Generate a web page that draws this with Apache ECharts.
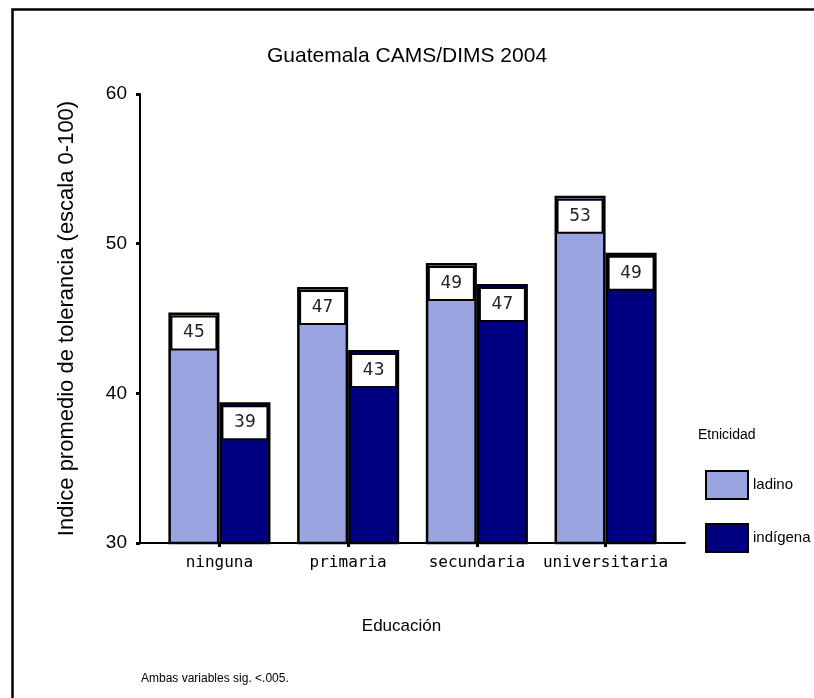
<!DOCTYPE html>
<html>
<head>
<meta charset="utf-8">
<script src="https://cdn.jsdelivr.net/npm/echarts@6/dist/echarts.min.js"></script>
<style>
html,body{margin:0;padding:0;background:#fff;}
#chart{width:814px;height:698px;}
</style>
</head>
<body>
<div id="chart"></div>
<script>
// ---- data ----
var categories = ['ninguna', 'primaria', 'secundaria', 'universitaria'];
var seriesNames = ['ladino', 'indígena'];
var ladino = [45.4, 47.1, 48.7, 53.2];
var indigena = [39.4, 42.9, 47.3, 49.4];
var yTicks = [30, 40, 50, 60];

var chart = echarts.init(document.getElementById('chart'), null, {renderer: 'canvas'});

function toPoints(arr) {
  return arr.map(function (v, i) { return [i + 1, v]; });
}
var catPos = categories.map(function (c, i) { return i + 1; });

var labelStyle = {
  show: true,
  position: 'insideTop',
  distance: 5,
  formatter: function (p) { return Math.round(p.value[1]); },
  backgroundColor: '#fff',
  borderColor: '#000',
  borderWidth: 2,
  width: 43,
  align: 'center',
  lineHeight: 19,
  padding: [6, 0, 6, 0],
  fontFamily: 'DejaVu Sans',
  fontSize: 17,
  color: '#222'
};

var option = {
  animation: false,
  backgroundColor: '#fff',
  title: [
    {
      text: 'Guatemala CAMS/DIMS 2004',
      left: 'center',
      top: 41,
      textStyle: {fontFamily: 'Liberation Sans', fontSize: 21, fontWeight: 'normal', color: '#000'}
    },
    {
      text: 'Etnicidad',
      left: 693,
      top: 423,
      textStyle: {fontFamily: 'Liberation Sans', fontSize: 14, fontWeight: 'normal', color: '#000'}
    },
    {
      text: 'Ambas variables sig. <.005.',
      left: 136,
      top: 668,
      textStyle: {fontFamily: 'Liberation Sans', fontSize: 12, fontWeight: 'normal', color: '#000'}
    }
  ],
  graphic: [
    {
      type: 'rect',
      left: 10, top: 7,
      shape: {width: 900, height: 800},
      style: {fill: 'none', stroke: '#000', lineWidth: 2.5},
      silent: true
    }
  ],
  legend: {
    orient: 'vertical',
    left: 700,
    top: 465,
    icon: 'rect',
    itemWidth: 42,
    itemHeight: 28,
    itemGap: 23,
    data: seriesNames,
    itemStyle: {borderColor: '#000', borderWidth: 2},
    textStyle: {fontFamily: 'Liberation Sans', fontSize: 15, color: '#000', padding: [18, 0, 0, 0]}
  },
  grid: {left: 140, right: 129, top: 94, bottom: 155, containLabel: false},
  xAxis: {
    type: 'value',
    min: 0.383,
    max: 4.617,
    name: 'Educación',
    nameLocation: 'middle',
    nameGap: 75,
    nameTextStyle: {fontFamily: 'Liberation Sans', fontSize: 17, color: '#000', padding: [0, 22, 0, 0]},
    splitLine: {show: false},
    axisLine: {show: true, lineStyle: {color: '#000', width: 2}},
    axisTick: {show: true, customValues: catPos, length: 4, lineStyle: {color: '#000', width: 3}},
    axisLabel: {
      customValues: catPos,
      formatter: function (v) { return categories[Math.round(v) - 1] || ''; },
      fontFamily: 'DejaVu Sans Mono',
      fontSize: 16,
      color: '#000',
      margin: 12
    }
  },
  yAxis: {
    type: 'value',
    min: yTicks[0],
    max: yTicks[yTicks.length - 1],
    interval: 10,
    name: 'Indice promedio de tolerancia (escala 0-100)',
    nameLocation: 'middle',
    nameGap: 62,
    nameTextStyle: {fontFamily: 'Liberation Sans', fontSize: 22, color: '#000'},
    splitLine: {show: false},
    axisLine: {show: true, lineStyle: {color: '#000', width: 2}},
    axisTick: {show: true, length: 4, lineStyle: {color: '#000', width: 3}},
    axisLabel: {fontFamily: 'Liberation Sans', fontSize: 19, color: '#000', margin: 13}
  },
  series: [
    {
      name: seriesNames[0],
      type: 'bar',
      data: toPoints(ladino),
      barGap: '0%',
      barCategoryGap: '20.7%',
      itemStyle: {color: '#9aa4e1', borderColor: '#000', borderWidth: 2.5},
      label: labelStyle
    },
    {
      name: seriesNames[1],
      type: 'bar',
      data: toPoints(indigena),
      barGap: '0%',
      barCategoryGap: '20.7%',
      itemStyle: {color: '#000080', borderColor: '#000', borderWidth: 2.5},
      label: labelStyle
    }
  ]
};
chart.setOption(option);
</script>
</body>
</html>
